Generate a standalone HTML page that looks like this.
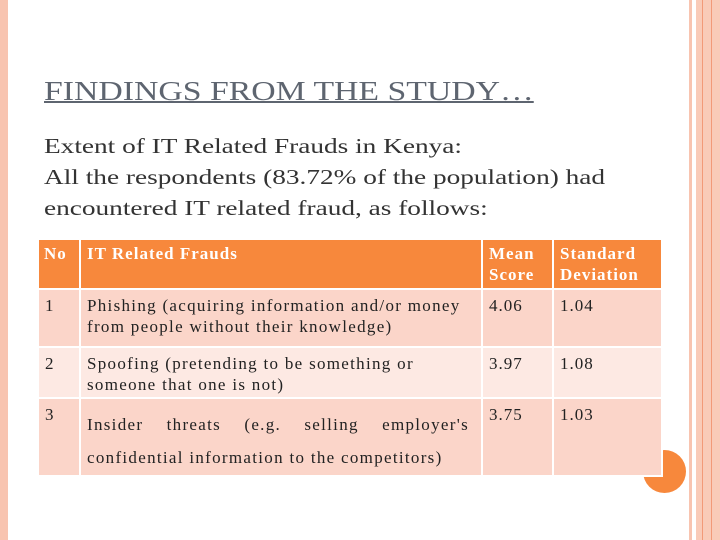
<!DOCTYPE html>
<html><head><meta charset="utf-8"><style>
body{margin:0;width:720px;height:540px;position:relative;overflow:hidden;background:#fff;font-family:"Liberation Serif",serif}
.abs{position:absolute}
#t{position:absolute;left:37px;top:238px;width:624px;table-layout:fixed;border-collapse:collapse;font-size:17px;color:#222;letter-spacing:1px}
#t td,#t th{border:2px solid #fff;vertical-align:top;padding:3px 4px 0 6px;line-height:21px;text-align:left;white-space:nowrap;overflow:hidden}
#t th{background:#f7883c;color:#fff;font-weight:bold;height:45px;font-size:17px}
.r1 td,.r3 td{background:#fbd5c9}
.r2 td{background:#fde9e3}
</style></head><body>
<div class="abs" style="left:0;top:0;width:8px;height:540px;background:#f8c4b0"></div>
<div class="abs" style="left:689px;top:0;width:3px;height:540px;background:#f8c4b0"></div>
<div class="abs" style="left:696px;top:0;width:24px;height:540px;background:#f9cbb8"></div>
<div class="abs" style="left:702px;top:0;width:1px;height:540px;background:#f29a78"></div>
<div class="abs" style="left:711px;top:0;width:1px;height:540px;background:#f29a78"></div>
<div class="abs" style="left:643px;top:450px;width:43px;height:43px;border-radius:50%;background:#f7883c"></div>
<div class="abs" style="left:44px;top:76px;font-size:27px;color:#5e6570;text-decoration:underline;text-decoration-thickness:2px;transform:scaleX(1.25);transform-origin:0 0;white-space:nowrap">FINDINGS FROM THE STUDY…</div>
<div class="abs" style="left:44px;top:131px;font-size:21px;color:#333;line-height:31px;transform:scaleX(1.3);transform-origin:0 0;white-space:nowrap">Extent of IT Related Frauds in Kenya:<br><span style="line-height:27px">All the respondents (83.72% of the population) had<br>encountered IT related fraud, as follows:</span></div>
<table id="t">
<colgroup><col style="width:42px"><col style="width:402px"><col style="width:71px"><col style="width:109px"></colgroup>
<tr><th style="padding-left:5px">No</th><th>IT Related Frauds</th><th>Mean<br>Score</th><th>Standard<br>Deviation</th></tr>
<tr class="r1" style="height:58px"><td style="padding-top:5px">1</td><td style="padding-top:5px;letter-spacing:1.3px">Phishing (acquiring information and/or money<br>from people without their knowledge)</td><td style="padding-top:5px">4.06</td><td style="padding-top:5px">1.04</td></tr>
<tr class="r2" style="height:51px"><td style="padding-top:5px">2</td><td style="padding-top:5px;letter-spacing:1.3px">Spoofing (pretending to be something or<br>someone that one is not)</td><td style="padding-top:5px">3.97</td><td style="padding-top:5px">1.08</td></tr>
<tr class="r3" style="height:78px"><td style="padding-top:5px">3</td><td style="padding-top:9px;line-height:33px;letter-spacing:1.3px"><div style="text-align:justify;text-align-last:justify;width:382px">Insider threats (e.g. selling employer's</div>confidential information to the competitors)</td><td style="padding-top:5px">3.75</td><td style="padding-top:5px">1.03</td></tr>
</table>
</body></html>
